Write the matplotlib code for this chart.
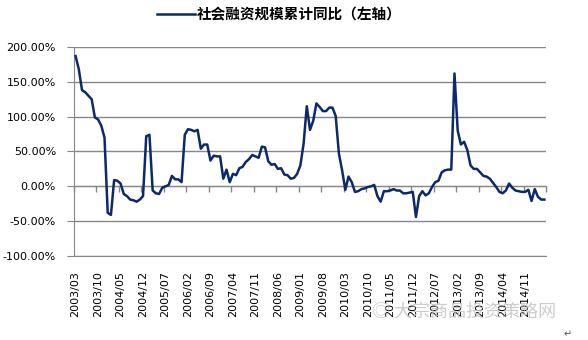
import numpy as np
import matplotlib
matplotlib.use('Agg')
import matplotlib.pyplot as plt
from matplotlib.ticker import FuncFormatter, FixedLocator

plt.rcParams['font.family'] = ['DejaVu Sans', 'Noto Sans CJK SC']

# 月度数据：2003/03 - 2015/05
months = [f'{2003 + (2 + i) // 12}/{(2 + i) % 12 + 1:02d}' for i in range(147)]
yoy = [187, 168, 138, 135, 130, 125, 99, 96, 87, 70,
       -38, -41, 9, 8, 4, -11, -14, -19, -20, -22,
       -19, -14, 72, 74, -6, -10, -11, -2, 0, 2,
       15, 10, 10, 6, 74, 82, 81, 79, 81, 54,
       60, 60, 37, 44, 43, 43, 11, 24, 6, 18,
       16, 26, 28, 35, 39, 45, 43, 41, 57, 56,
       36, 31, 32, 25, 26, 17, 16, 11, 12, 18,
       30, 61, 115, 81, 94, 119, 114, 108, 108, 113,
       113, 101, 47, 23, -5, 14, 6, -8, -7, -4,
       -3, -1, 0, 2, -14, -22, -7, -7, -6, -4,
       -6, -6, -10, -10, -9, -8, -44, -14, -7, -13,
       -10, -1, 6, 8, 20, 23, 24, 24, 162, 80,
       60, 64, 52, 30, 25, 25, 20, 15, 14, 11,
       5, -1, -8, -10, -6, 4, -2, -6, -7, -8,
       -8, -5, -21, -4, -15, -19, -19]
label_name = '社会融资规模累计同比（左轴）'
yticks = [-100, -50, 0, 50, 100, 150, 200]

grid_c = '#878787'
line_c = '#0c2a6a'

fig = plt.figure(figsize=(5.88, 3.40), dpi=100)
ax = fig.add_axes([74 / 588, 1 - 256 / 340, 472 / 588, 209 / 340])

x = np.arange(len(yoy))
ax.plot(x, yoy, color=line_c, lw=1.8, label=label_name, zorder=3)

# 横轴线放在0%处（会重置刻度，所以先做）
ax.spines['right'].set_visible(False)
for s in ['left', 'bottom', 'top']:
    ax.spines[s].set_color(grid_c)
ax.spines['top'].set_position(('data', 0))

ax.set_xlim(-0.5, len(yoy) - 0.5)
ax.set_ylim(-100, 200)
ax.set_yticks(yticks)
ax.yaxis.set_major_formatter(FuncFormatter(lambda v, p: f'{v:.2f}%'))
ax.grid(axis='y', color=grid_c, lw=1.0)

# 类别标签每7个月一个
ax.set_xticks(x[::7])
ax.set_xticklabels([months[i] for i in x[::7]])
ax.xaxis.set_minor_locator(FixedLocator(np.arange(-0.5, len(yoy), 7)))

ax.tick_params(axis='x', which='major', length=0, pad=11, top=False, bottom=True,
               labelbottom=True, labeltop=False, labelrotation=90, labelsize=8)
ax.tick_params(axis='x', which='minor', length=4, direction='in', top=True,
               bottom=False, color=grid_c, width=1)
ax.tick_params(axis='y', length=5, color=grid_c, labelsize=8, pad=8)

fig.legend(loc='center', bbox_to_anchor=(279 / 588, 1 - 14 / 340), frameon=False,
           handlelength=2.6, handletextpad=0.1,
           prop={'family': 'Noto Sans CJK SC', 'size': 10.5, 'weight': 'bold'})

# 水印
fig.text(372 / 588, 1 - 312 / 340, '◎ 大宗商品投资策略网', fontsize=13,
         family=['Noto Sans CJK SC', 'DejaVu Sans'], color='#c4c4c4', alpha=0.85,
         va='center', ha='left')
fig.text(568 / 588, 1 - 334 / 340, '↵', fontsize=7, color='#555555',
         va='center', ha='center')

fig.savefig('out.png', dpi=100)
